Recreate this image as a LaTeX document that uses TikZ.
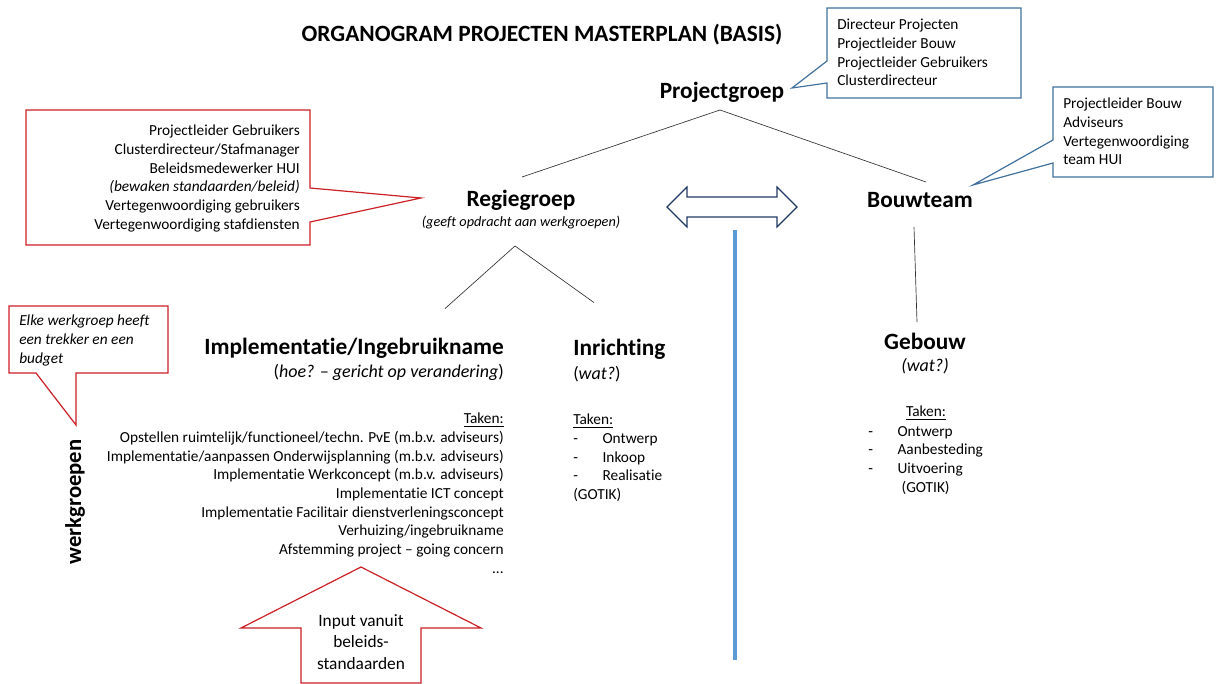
\documentclass[tikz,border=0pt]{standalone}
\usepackage{fontspec}
\setmainfont{Carlito}[Ligatures=NoCommon]
\usetikzlibrary{positioning,calc}
\definecolor{orgred}{RGB}{204,32,39}
\definecolor{orgblue}{RGB}{65,113,156}
\definecolor{orgnavy}{RGB}{32,56,100}
\definecolor{orgsplit}{RGB}{91,155,213}
\newcommand{\taak}[1]{\makebox[22pt][l]{-}#1}

\begin{document}
\begin{tikzpicture}[x=0.75pt, y=-0.75pt,
    titel/.style={font=\fontsize{17.5}{20}\selectfont\bfseries, inner sep=0pt},
    groep/.style={font=\fontsize{17.5}{20}\selectfont\bfseries, inner sep=0pt},
    sub/.style={font=\fontsize{13.5}{15}\selectfont, inner sep=0pt},
    tekst/.style={font=\fontsize{11.5}{14}\selectfont, inner sep=0pt},
    lijn/.style={draw=black!80, line width=0.5pt},
    rodeballon/.style={draw=orgred, line width=0.9pt, fill=white, line join=miter},
    blauweballon/.style={draw=orgblue, line width=0.9pt, fill=white, line join=miter},
]
    \useasboundingbox (0,0) rectangle (1216,684);

    % Callout shapes
    \draw[blauweballon] (827,8) -- (1021,8) -- (1021,98) -- (827,98) -- (827,83) -- (792,88) -- (827,61) -- cycle;
    \draw[blauweballon] (1053,87) -- (1213,87) -- (1213,177) -- (1053,177) -- (1053,163) -- (973,185) -- (1053,140) -- cycle;
    \draw[rodeballon] (26,110) -- (310,110) -- (310,188) -- (421,198) -- (310,222) -- (310,245) -- (26,245) -- cycle;
    \draw[rodeballon] (9,306) -- (168,306) -- (168,373) -- (76,373) -- (76,425) -- (36,373) -- (9,373) -- cycle;
    \draw[rodeballon] (361,567) -- (481,628) -- (421,628) -- (421,683) -- (301,683) -- (301,628) -- (241,628) -- cycle;

    % Title
    \node[titel] (titel) at (542,35) {ORGANOGRAM PROJECTEN MASTERPLAN (BASIS)};

    % Groups
    \node[groep] (pg) at (722,92) {Projectgroep};
    \node[groep] (rg) at (521,200) {Regiegroep};
    \node[tekst, font=\fontsize{10.7}{12}\selectfont\itshape] (rgsub) at (521,223) {(geeft opdracht aan werkgroepen)};
    \node[groep] (bt) at (920,200) {Bouwteam};

    % Callout texts
    \node[tekst, anchor=north west, align=left] (pgnote) at (837,19) {
        Directeur Projecten\\
        Projectleider Bouw\\
        Projectleider Gebruikers\\
        Clusterdirecteur
    };
    \node[tekst, anchor=north west, align=left] (btnote) at (1063,98) {
        Projectleider Bouw\\
        Adviseurs\\
        Vertegenwoordiging\\
        team HUI
    };
    \node[tekst, anchor=north east, align=right] (rgnote) at (300,125) {
        Projectleider Gebruikers\\
        Clusterdirecteur/Stafmanager\\
        Beleidsmedewerker HUI\\
        \textit{(bewaken standaarden/beleid)}\\
        Vertegenwoordiging gebruikers\\
        Vertegenwoordiging stafdiensten
    };
    \node[tekst, font=\fontsize{11.5}{14}\selectfont\itshape, anchor=north west, align=left] (wgnote) at (19,315) {
        Elke werkgroep heeft\\
        een trekker en een\\
        budget
    };

    % Link between regiegroep and bouwteam
    \draw[draw=orgnavy, line width=0.9pt, fill=white, line join=miter]
        (667,207) -- (687,187) -- (687,197) -- (777,197) -- (777,187) -- (797,207)
        -- (777,227) -- (777,217) -- (687,217) -- (687,227) -- cycle;
    \draw[draw=orgsplit, line width=3pt] (735,230) -- (735,660);

    % Werkgroepen
    \node[groep, font=\fontsize{17}{20}\selectfont\bfseries, rotate=90] (wg) at (75,502) {werkgroepen};

    \node[groep, anchor=east] (impl) at (504,348) {Implementatie/Ingebruikname};
    \node[sub, anchor=east] (implsub) at (504,372) {(\textit{hoe? – gericht op verandering})};
    \node[tekst, anchor=north east, align=right] (impltaken) at (504,413) {
        \underline{Taken:}\\
        Opstellen ruimtelijk/functioneel/techn. PvE (m.b.v. adviseurs)\\
        Implementatie/aanpassen Onderwijsplanning (m.b.v. adviseurs)\\
        Implementatie Werkconcept (m.b.v. adviseurs)\\
        Implementatie ICT concept\\
        Implementatie Facilitair dienstverleningsconcept\\
        Verhuizing/ingebruikname\\
        Afstemming project – going concern\\
        ...
    };

    \node[groep, anchor=west] (inr) at (573,349) {Inrichting};
    \node[sub, anchor=west] (inrsub) at (573,374) {(\textit{wat?})};
    \node[tekst, anchor=north west, align=left] (inrtaken) at (573,414) {
        \underline{Taken:}\\
        \taak{Ontwerp}\\
        \taak{Inkoop}\\
        \taak{Realisatie}\\
        (GOTIK)
    };

    \node[groep] (gb) at (925,341) {Gebouw};
    \node[sub, font=\fontsize{13.5}{15}\selectfont\itshape] (gbsub) at (925,366) {(wat?)};
    \node[tekst] (gbkop) at (926,413) {\underline{Taken:}};
    \node[tekst, anchor=north west, align=left] (gbtaken) at (868,426) {
        \taak{Ontwerp}\\
        \taak{Aanbesteding}\\
        \taak{Uitvoering}\\
        \hspace*{25pt}(GOTIK)
    };

    \node[tekst, font=\fontsize{13}{16}\selectfont, align=center] (input) at (361,642) {
        Input vanuit\\
        beleids-\\
        standaarden
    };

    % Lines
    \draw[lijn] ($(pg)+(-2,18)$) -- ($(rg)+(1,-23)$);
    \draw[lijn] ($(pg)+(-2,18)$) -- ($(bt)+(6,-18)$);
    \draw[lijn] ($(rg)+(-6,46)$) -- ($(impl.north east)+(-59,-29)$);
    \draw[lijn] ($(rg)+(-6,46)$) -- ($(inr.north west)+(21,-36)$);
    \draw[lijn] ($(bt)+(-6,27)$) -- ($(gb)+(-8,-19)$);
\end{tikzpicture}
\end{document}
